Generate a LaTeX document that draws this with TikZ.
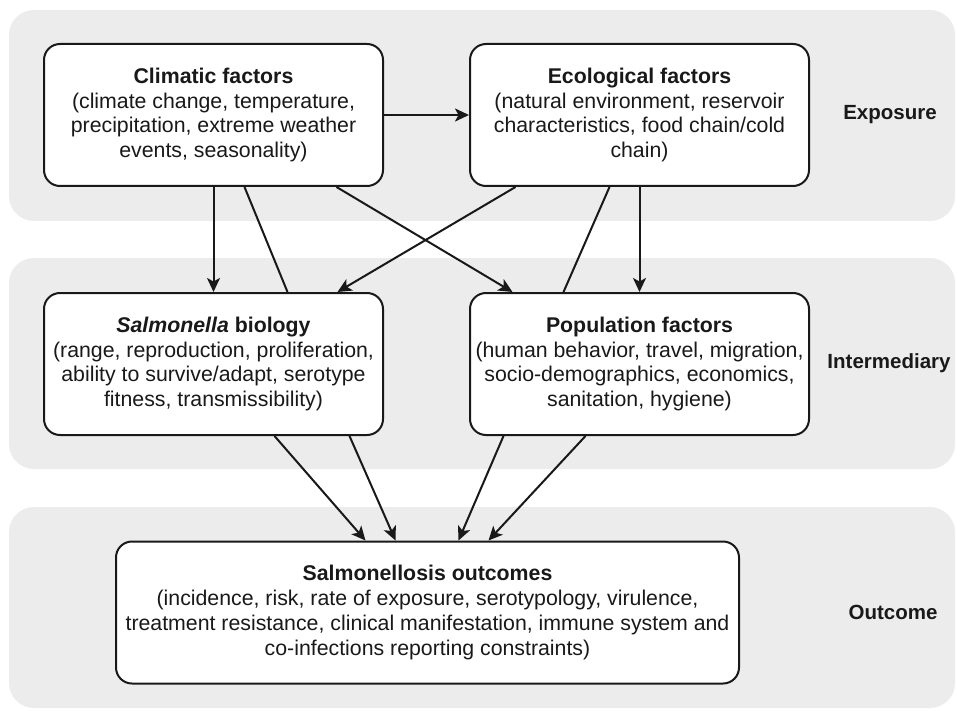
\documentclass[tikz,border=0pt]{standalone}
\usepackage{fontspec}
\setmainfont{Liberation Sans}
\usetikzlibrary{arrows.meta}
\definecolor{bandgray}{RGB}{236,236,236}
\definecolor{ink}{RGB}{25,25,25}

\begin{document}
\begin{tikzpicture}[x=1pt,y=-1pt,
  band/.style={fill=bandgray,rounded corners=25pt},
  factor/.style={draw=ink,line width=2pt,fill=white,rounded corners=16pt,
    minimum width=339pt,minimum height=142pt,inner sep=0pt,align=center,
    text=ink,font=\fontsize{21.3}{24.7}\selectfont},
  level/.style={text=ink,font=\bfseries\fontsize{20.5}{24}\selectfont},
  link/.style={draw=ink,line width=2pt},
  arr/.style={link,-{Stealth[length=14pt,width=13pt,inset=3.5pt]}}]
\useasboundingbox (0,0) rectangle (957,711);
% background bands
\fill[band] (9,10) rectangle (955,221);
\fill[band] (9,258) rectangle (955,469);
\fill[band] (9,507) rectangle (955,708);
% boxes
\node[factor] (clim) at (213.5,115) {\textbf{Climatic factors}\\(climate change, temperature,\\precipitation, extreme weather\\events, seasonality)};
\node[factor] (eco) at (639.5,115) {\textbf{Ecological factors}\\(natural environment, reservoir\\characteristics, food chain/cold\\chain)};
\node[factor] (bio) at (213.5,364) {\textbf{\textit{Salmonella} biology}\\(range, reproduction, proliferation,\\ability to survive/adapt, serotype\\fitness, transmissibility)};
\node[factor] (pop) at (639.5,364) {\textbf{Population factors}\\(human behavior, travel, migration,\\socio-demographics, economics,\\sanitation, hygiene)};
\node[factor,minimum width=623pt] (out) at (427.5,612.5) {\textbf{Salmonellosis outcomes}\\(incidence, risk, rate of exposure, serotypology, virulence,\\treatment resistance, clinical manifestation, immune system and\\co-infections reporting constraints)};
% level labels
\node[level] (expo) at (890,115) {Exposure};
\node[level] (inter) at (889,363) {Intermediary};
\node[level] (outc) at (893,612) {Outcome};
% connectors
\draw[arr] (clim) -- (eco);
\draw[arr] (clim.south) -- (bio.north);
\draw[link] ([xshift=31pt]clim.south) -- ([xshift=74pt]bio.north);
\draw[arr] ([xshift=123pt]clim.south) -- ([xshift=-127pt]pop.north);
\draw[arr] ([xshift=-124pt]eco.south) -- ([xshift=124pt]bio.north);
\draw[link] ([xshift=-30pt]eco.south) -- ([xshift=-76pt]pop.north);
\draw[arr] (eco.south) -- (pop.north);
\draw[arr] ([xshift=61pt]bio.south) -- ([xshift=-62pt]out.north);
\draw[arr] ([xshift=136pt]bio.south) -- ([xshift=-32pt]out.north);
\draw[arr] ([xshift=-136pt]pop.south) -- ([xshift=31pt]out.north);
\draw[arr] ([xshift=-54pt]pop.south) -- ([xshift=61pt]out.north);
\end{tikzpicture}
\end{document}
